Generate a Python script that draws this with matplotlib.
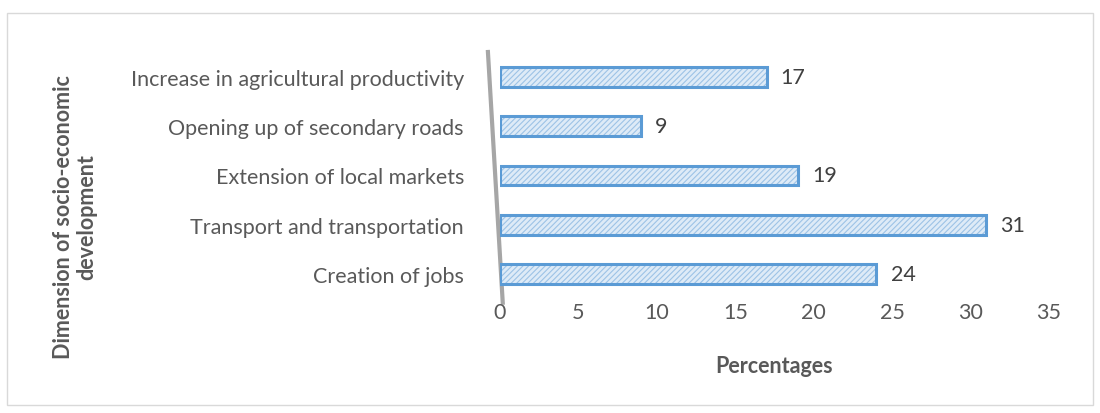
import matplotlib
matplotlib.use("Agg")
import matplotlib.pyplot as plt
from matplotlib.patches import Rectangle

categories = ["Creation of jobs", "Transport and transportation", "Extension of local markets",
              "Opening up of secondary roads", "Increase in agricultural productivity"]
values = [24, 31, 19, 9, 17]
xticks = [0, 5, 10, 15, 20, 25, 30, 35]

plt.rcParams['font.family'] = ['Lato', 'DejaVu Sans']
plt.rcParams['hatch.linewidth'] = 0.8

FS = 15.5
fig = plt.figure(figsize=(11, 4.14), dpi=100)
fig.patches.append(Rectangle((7/1100, 1-406/414), 1086/1100, 392/414, transform=fig.transFigure,
                             fill=False, edgecolor='#d9d9d9', linewidth=1))
ax = fig.add_axes([500/1100, 1-300/414, 549/1100, 247/414])

y = list(range(len(categories)))
ax.barh(y, values, height=0.4, color='#deebf7', edgecolor='#9dc3e6', hatch='//////', linewidth=0)
ax.barh(y, values, height=0.4, fill=False, edgecolor='#5b9bd5', linewidth=2.2)
for yi, v in zip(y, values):
    ax.text(v + 0.9, yi, str(v), va='center', ha='left', fontsize=FS, color='#404040')

ax.set_xlim(0, 35)
ax.set_ylim(-0.5, 4.5)
ax.set_xticks(xticks)
ax.set_xticklabels([str(t) for t in xticks], fontsize=FS, color='#595959')
ax.set_yticks(y)
ax.set_yticklabels(categories, fontsize=FS, color='#595959')
ax.tick_params(length=0)
ax.tick_params(axis='y', pad=26)
ax.tick_params(axis='x', pad=2)
for s in ax.spines.values():
    s.set_visible(False)

# slanted gray category axis (perspective look)
ax.plot([-0.022, 0.005], [1.0, -0.015], transform=ax.transAxes, color='#a6a6a6',
        linewidth=3, clip_on=False, zorder=0)

ax.set_xlabel("Percentages", fontsize=FS, fontweight='bold', color='#595959', labelpad=24)
fig.text(75/1100, 1-217/414, "Dimension of socio-economic\ndevelopment", rotation=90,
         ha='center', va='center', fontsize=FS, fontweight='bold', color='#595959',
         multialignment='center', linespacing=1.1)

fig.savefig("out.png", dpi=100)
